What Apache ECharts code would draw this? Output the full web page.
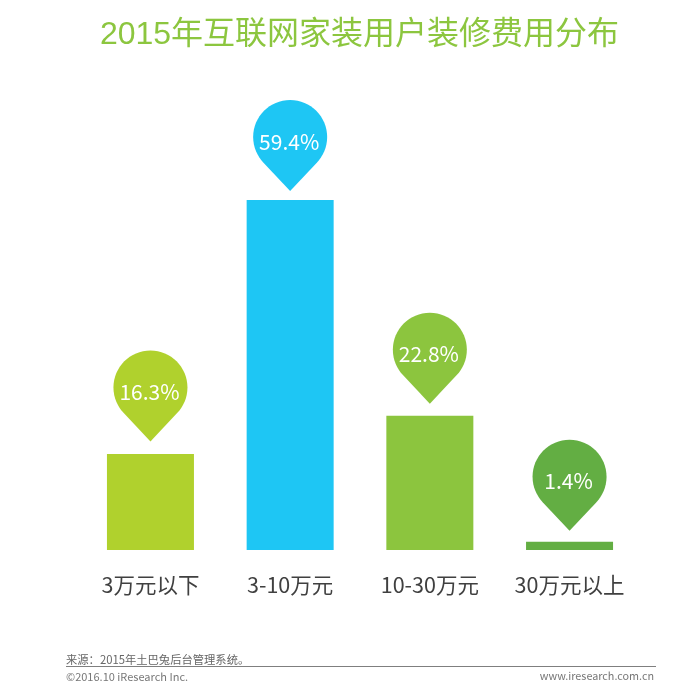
<!DOCTYPE html>
<html>
<head>
<meta charset="utf-8">
<style>
html, body { margin: 0; padding: 0; background: #fff; }
#chart { width: 700px; height: 696px; }
</style>
<script src="https://cdn.jsdelivr.net/npm/echarts@6/dist/echarts.min.js"></script>
</head>
<body>
<div id="chart"></div>
<script>
var categories = ['3万元以下', '3-10万元', '10-30万元', '30万元以上'];
var shares = [16.3, 59.4, 22.8, 1.4];
var barColors = ['#b0d12d', '#1ec6f4', '#8cc53e', '#63ae43'];
// 每个水滴离柱子顶部的距离不完全一样
var pinLift = [58, 54.5, 57.5, 56.5];

var cjk = '"Noto Sans CJK SC", sans-serif';
var latin = '"Liberation Sans", "Noto Sans CJK SC", sans-serif';
// 水滴形标记 圆半径37 尖角朝下 用贝塞尔曲线画圆弧
var pinPath = 'path://M37 0C57.4 0 74 16.6 74 37C74 47.5 69.7 56.1 63.9 62.4L37 91L10.1 62.4C4.3 56.1 0 47.5 0 37C0 16.6 16.6 0 37 0Z';

var chart = echarts.init(document.getElementById('chart'), null, { renderer: 'canvas' });

chart.setOption({
    animation: false,
    backgroundColor: '#fff',
    title: {
        text: '2015年互联网家装用户装修费用分布',
        left: 354.5,
        top: 14,
        textAlign: 'center',
        textStyle: { color: '#8cc63f', fontSize: 32, fontWeight: 'normal', fontFamily: latin }
    },
    grid: { left: 80.6, right: 60.6, top: 196.5, bottom: 146 },
    xAxis: {
        type: 'category',
        data: categories,
        axisLine: { show: false },
        axisTick: { show: false },
        axisLabel: { color: '#404040', fontSize: 21.5, fontFamily: cjk, margin: 24, interval: 0 }
    },
    yAxis: { type: 'value', min: 0, max: 60, show: false },
    series: [
        {
            type: 'bar',
            barWidth: 87,
            data: shares.map(function (v, i) {
                return { value: v, itemStyle: { color: barColors[i] } };
            })
        },
        {
            type: 'scatter',
            symbol: pinPath,
            symbolSize: [74, 91],
            z: 3,
            label: {
                show: true,
                position: 'inside',
                offset: [-1, -4],
                color: '#fff',
                fontSize: 21,
                fontFamily: cjk,
                formatter: function (p) { return p.value + '%'; }
            },
            data: shares.map(function (v, i) {
                return {
                    value: v,
                    symbolOffset: [0, -pinLift[i]],
                    itemStyle: { color: barColors[i], opacity: 1 }
                };
            })
        }
    ],
    graphic: [
        {
            type: 'line',
            shape: { x1: 66, y1: 666.5, x2: 656, y2: 666.5 },
            style: { stroke: '#7f7f7f', lineWidth: 1 }
        },
        {
            type: 'text', left: 66, top: 654,
            style: { text: '来源：2015年土巴兔后台管理系统。', fill: '#666', font: '11.3px ' + cjk }
        },
        {
            type: 'text', left: 66, top: 671,
            style: { text: '©2016.10 iResearch Inc.', fill: '#777', font: '11px ' + cjk }
        },
        {
            type: 'text', right: 46, top: 671,
            style: { text: 'www.iresearch.com.cn', fill: '#777', font: '10.8px ' + cjk }
        }
    ]
});
</script>
</body>
</html>
